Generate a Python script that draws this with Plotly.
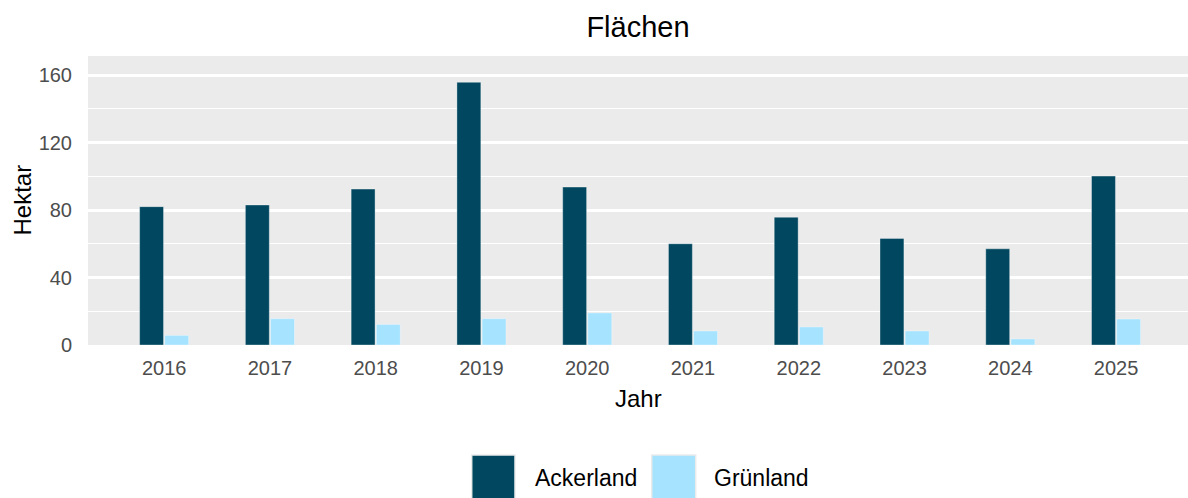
import plotly.graph_objects as go

years = ["2016", "2017", "2018", "2019", "2020", "2021", "2022", "2023", "2024", "2025"]
ackerland = [82, 83, 92.4, 155.7, 93.6, 60, 75.7, 63.2, 57, 100.1]
gruenland = [5.7, 15.6, 12.2, 15.6, 19, 8.3, 10.7, 8.3, 3.6, 15.4]
series_names = ["Ackerland", "Grünland"]
colors = ["#00475F", "#A6E3FE"]

W, H = 1188, 498
L, R, T, B = 88, 0, 56, 153
pw, ph = W - L - R, H - T - B

def px2paper_x(px):
    return (px - L) / pw

def px2paper_y(py):
    return (H - B - py) / ph

FONT = "Liberation Sans, Arial, sans-serif"

fig = go.Figure()
for name, vals, col in zip(series_names, [ackerland, gruenland], colors):
    fig.add_trace(go.Bar(
        x=years, y=vals, name=name,
        marker=dict(color=col, line=dict(color="rgba(255,255,255,0.35)", width=1)),
        showlegend=False,
    ))

fig.update_layout(
    width=W, height=H,
    margin=dict(l=L, r=R, t=T, b=B),
    paper_bgcolor="white",
    plot_bgcolor="#EBEBEB",
    barmode="group",
    bargap=0.524,
    bargroupgap=0.05,
    font=dict(family=FONT, color="#4D4D4D"),
    title=dict(text="Flächen", x=(L + pw / 2) / W, xanchor="center",
               y=1 - 27 / H, yanchor="middle",
               font=dict(size=29, color="black", family=FONT)),
    xaxis=dict(type="category", range=[-0.72, 9.68], showgrid=False,
               ticks="outside", ticklen=5, tickcolor="rgba(0,0,0,0)",
               tickfont=dict(size=20, color="#4D4D4D"), showline=False, zeroline=False),
    yaxis=dict(range=[0, 171.3], tickvals=[0, 40, 80, 120, 160],
               showgrid=True, gridcolor="white", gridwidth=2.5,
               minor=dict(dtick=20, tick0=0, showgrid=True, gridcolor="white", gridwidth=1.2),
               ticks="outside", ticklen=11, tickcolor="rgba(0,0,0,0)",
               tickfont=dict(size=20, color="#4D4D4D"), zeroline=False, showline=False),
)

# axis titles
fig.add_annotation(text="Jahr", xref="paper", yref="paper",
                   x=0.5, y=px2paper_y(398), xanchor="center", yanchor="middle",
                   showarrow=False, font=dict(size=24, color="black", family=FONT))
fig.add_annotation(text="Hektar", xref="paper", yref="paper",
                   x=px2paper_x(22), y=0.5, xanchor="center", yanchor="middle",
                   textangle=-90, showarrow=False,
                   font=dict(size=24, color="black", family=FONT))

# legend (drawn manually for large ggplot-style keys)
key_x = [(471.7, 515.0), (651.7, 695.7)]
text_x = [532.7, 711.7]
for (x0, x1), tx, name, col in zip(key_x, text_x, series_names, colors):
    fig.add_shape(type="rect", xref="paper", yref="paper",
                  x0=px2paper_x(x0), x1=px2paper_x(x1),
                  y0=px2paper_y(455), y1=px2paper_y(502),
                  fillcolor=col, line=dict(color="#EBEBEB", width=1.5))
    fig.add_annotation(text=name, xref="paper", yref="paper",
                       x=px2paper_x(tx), y=px2paper_y(478), xanchor="left", yanchor="middle",
                       showarrow=False, font=dict(size=23, color="black", family=FONT))

fig.write_html("out.html", config={"displayModeBar": False},
               post_script="document.body.style.margin='0';document.body.style.overflow='hidden';")
